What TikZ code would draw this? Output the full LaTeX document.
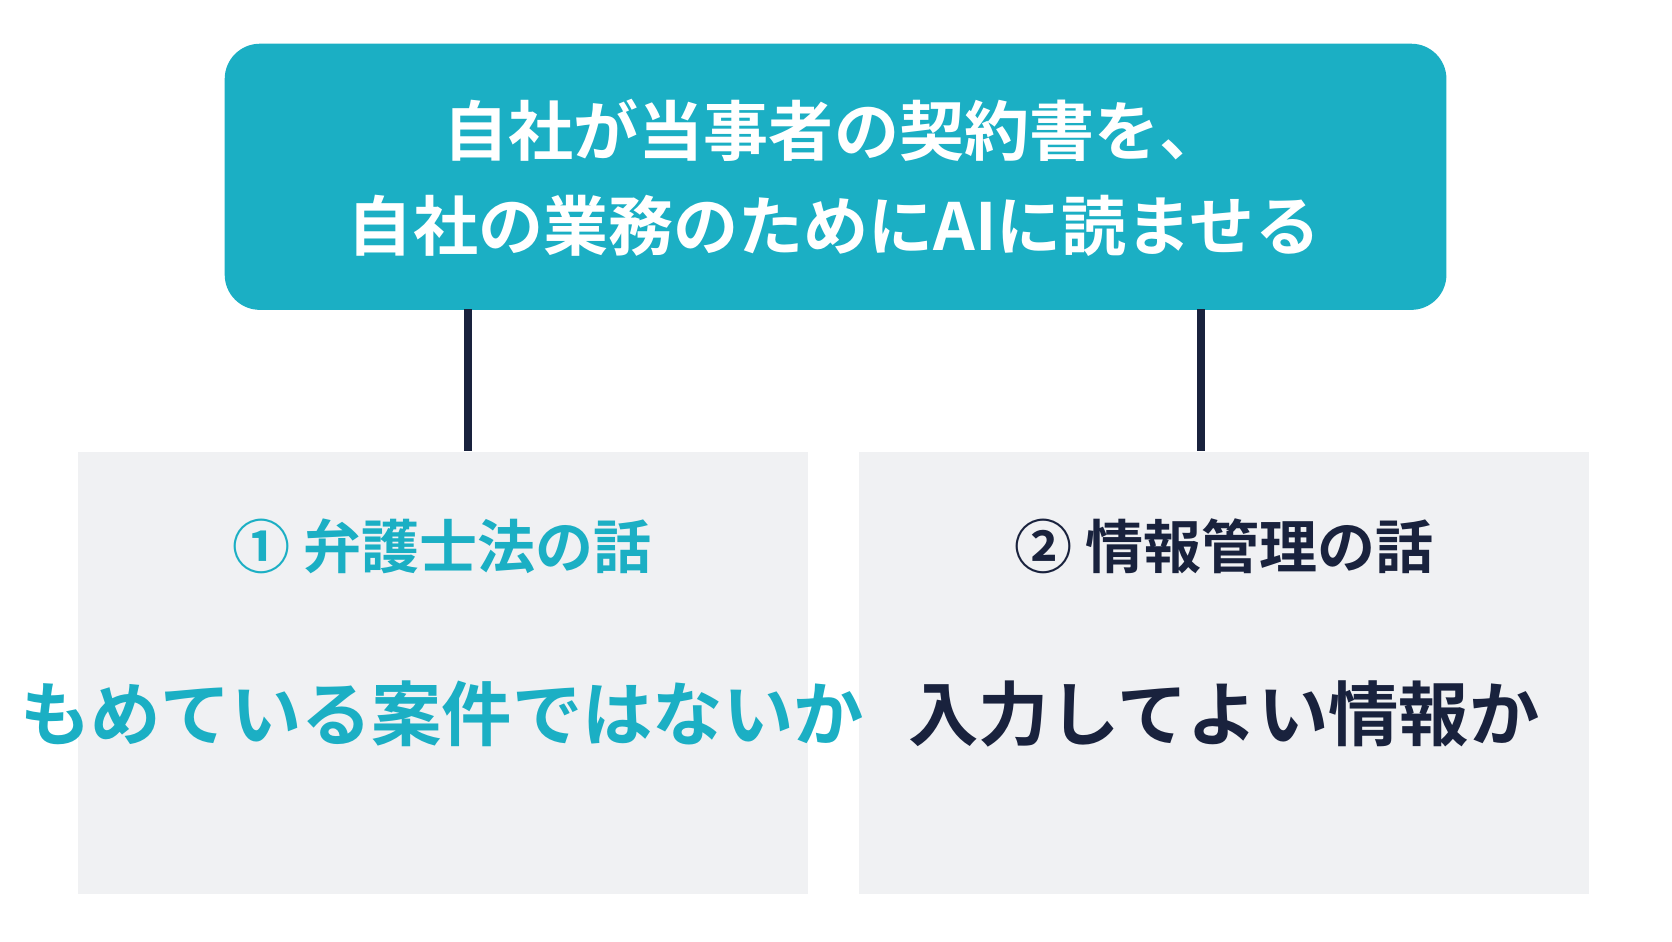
\documentclass[tikz,border=0pt]{standalone}
\usepackage{fontspec}
\setmainfont{Noto Sans CJK JP}[BoldFont={* Bold}]
\usetikzlibrary{positioning}
\definecolor{teal}{HTML}{1BAFC4}
\definecolor{navy}{HTML}{19223D}
\definecolor{panel}{HTML}{F0F1F3}
\tikzset{
  panel/.style={fill=panel, minimum width=7.3cm, minimum height=4.42cm, anchor=north west, inner sep=0pt},
  link/.style={draw=navy, line width=2.2pt}}

\begin{document}
\begin{tikzpicture}[x=0.01cm, y=-0.01cm]
    \useasboundingbox (0,0) rectangle (1672,941);

    \node[fill=teal, rounded corners=10pt, minimum width=12.21cm, minimum height=2.66cm, anchor=north west, inner sep=0pt] (top) at (224,43) {};
    \node[text=white, font=\bfseries\fontsize{18.5}{27}\selectfont, align=center] (title) at (834,178) {自社が当事者の契約書を、\\自社の業務のためにAIに読ませる};

    \node[panel] (left) at (77,451) {};
    \node[panel] (right) at (858,451) {};

    \coordinate (lt) at (468,309);
    \coordinate (rt) at (1201,309);
    \draw[link] (lt) -- (lt |- left.north);
    \draw[link] (rt) -- (rt |- right.north);

    \node[text=teal, font=\bfseries\fontsize{16.5}{20}\selectfont] (law) at (442,546) {①\ 弁護士法の話};
    \node[text=teal, font=\bfseries\fontsize{20}{24}\selectfont] (dispute) at (442,714) {もめている案件ではないか};
    \node[text=navy, font=\bfseries\fontsize{16.5}{20}\selectfont] (info) at (1224,546) {②\ 情報管理の話};
    \node[text=navy, font=\bfseries\fontsize{20}{24}\selectfont] (input) at (1224,714) {入力してよい情報か};

\end{tikzpicture}
\end{document}
